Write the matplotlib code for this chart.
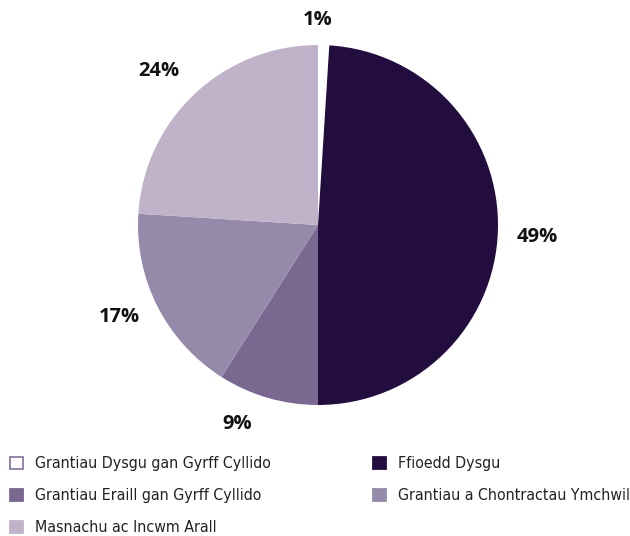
import numpy as np
import matplotlib.pyplot as plt
from matplotlib.patches import Patch
from matplotlib import font_manager

# data, in drawing order (clockwise from 12 o'clock)
labels = ['Grantiau Dysgu gan Gyrff Cyllido', 'Ffioedd Dysgu',
          'Grantiau Eraill gan Gyrff Cyllido', 'Grantiau a Chontractau Ymchwil',
          'Masnachu ac Incwm Arall']
shares = [1, 49, 9, 17, 24]
colors = ['#ffffff', '#230d3e', '#7b6891', '#968aab', '#c0b3c9']

W, H = 630, 536
fig = plt.figure(figsize=(W / 100, H / 100), dpi=100)

# pie centre ~(318, 225) px, radius ~180 px
R = 180
lim = 1.25
ax = fig.add_axes([(318 - lim * R) / W, (H - 225 - lim * R) / H,
                   2 * lim * R / W, 2 * lim * R / H])
wedges, texts = ax.pie(shares, colors=colors, startangle=90, counterclock=False,
                       wedgeprops=dict(linewidth=0))
ax.set_xlim(-lim, lim)
ax.set_ylim(-lim, lim)
ax.set_aspect('equal')
ax.axis('off')

# percentage labels outside the pie (distance, angle nudge in degrees)
dist = [1.14, 1.22, 1.195, 1.22, 1.23]
nudge = [1.8, -1.3, -5.8, -2.1, 2.7]
for w, s, d, a in zip(wedges, shares, dist, nudge):
    mid = np.deg2rad((w.theta1 + w.theta2) / 2 + a)
    ax.text(d * np.cos(mid), d * np.sin(mid), '{}%'.format(s),
            ha='center', va='center', fontsize=14.5, fontweight='bold',
            family='Open Sans', color='#111111')

# legend font: a condensed face if one is installed, else Lato
fp = font_manager.FontProperties(family='DejaVu Sans', stretch='condensed')
if 'Condensed' in font_manager.findfont(fp):
    lprop = dict(family='DejaVu Sans', stretch='condensed')
else:
    lprop = dict(family='Lato')
# size chosen so the first label is ~236 px wide, as in the reference
probe = fig.text(0, 0, labels[0], fontsize=12, **lprop)
wpx = probe.get_window_extent(renderer=fig.canvas.get_renderer()).width
probe.remove()
fs = 12 * 236 / wpx
fpx = fs * 100 / 72
lprop['size'] = fs

handles = [Patch(facecolor=c, edgecolor='#8a7ca0' if c == '#ffffff' else c,
                 linewidth=1.3) for c in colors]
common = dict(loc='upper left', frameon=False, borderpad=0, borderaxespad=0,
              handlelength=13 / fpx, handleheight=13 / fpx,
              handletextpad=12 / fpx, labelspacing=(36 - 1.2 * fpx) / fpx,
              prop=lprop, labelcolor='#222222')
top = 1 - (466 - 0.6 * fpx) / H
fig.legend([handles[i] for i in [0, 2, 4]], [labels[i] for i in [0, 2, 4]],
           bbox_to_anchor=(10 / W, top), **common)
fig.legend([handles[i] for i in [1, 3]], [labels[i] for i in [1, 3]],
           bbox_to_anchor=(373 / W, top), **common)

fig.savefig('out.png', dpi=100)
